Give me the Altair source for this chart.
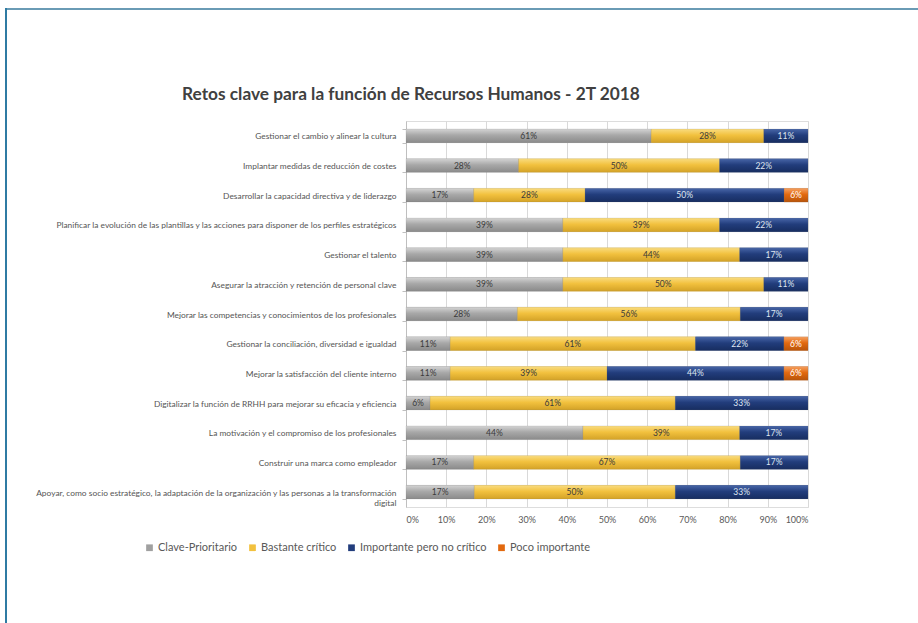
import altair as alt
import pandas as pd

title_text = "Retos clave para la función de Recursos Humanos - 2T 2018"
tasks = [
    "Gestionar el cambio y alinear la cultura",
    "Implantar medidas de reducción de costes",
    "Desarrollar la capacidad directiva y de liderazgo",
    "Planificar la evolución de las plantillas y las acciones para disponer de los perfiles estratégicos",
    "Gestionar el talento",
    "Asegurar la atracción y retención de personal clave",
    "Mejorar las competencias y conocimientos de los profesionales",
    "Gestionar la conciliación, diversidad e igualdad",
    "Mejorar la satisfacción del cliente interno",
    "Digitalizar la función de RRHH para mejorar su eficacia y eficiencia",
    "La motivación y el compromiso de los profesionales",
    "Construir una marca como empleador",
    "Apoyar, como socio estratégico, la adaptación de la organización y las personas a la transformación|digital",
]
series = ["Clave-Prioritario", "Bastante crítico", "Importante pero no crítico", "Poco importante"]
clave = [61, 28, 17, 39, 39, 39, 28, 11, 11, 6, 44, 17, 17]
bastante = [28, 50, 28, 39, 44, 50, 56, 61, 39, 61, 39, 67, 50]
importante = [11, 22, 50, 22, 17, 11, 17, 22, 44, 33, 17, 17, 33]
poco = [0, 0, 6, 0, 0, 0, 0, 6, 6, 0, 0, 0, 0]
colors = ["#a0a0a0", "#f2c13e", "#223d7c", "#e2690f"]
grad_stops = [
    ["#d4d4d4", "#a8a8a8", "#8a8a8a"],
    ["#f9dc80", "#f2c13e", "#d3a227"],
    ["#4866a8", "#223d7c", "#172d60"],
    ["#f6a060", "#e2690f", "#b8540a"],
]
text_colors = ["#3a3a3a", "#3a3a3a", "#dfe6f0", "#ffffff"]

rows = []
for i, t in enumerate(tasks):
    for j, vals in enumerate([clave, bastante, importante, poco]):
        if vals[i] > 0:
            rows.append({"task": t, "serie": series[j], "order": j, "value": vals[i],
                         "label": f"{vals[i]}%", "tcolor": text_colors[j]})
df = pd.DataFrame(rows)

base = alt.Chart(df).transform_stack(
    stack="value", groupby=["task"], as_=["v0", "v1"], offset="normalize",
    sort=[alt.SortField("order", order="ascending")]
).transform_calculate(mid="(datum.v0 + datum.v1) / 2")

yenc = alt.Y("task:N", sort=tasks, title=None,
             scale=alt.Scale(paddingInner=0.54, paddingOuter=0.27),
             axis=alt.Axis(labelExpr="split(datum.label, '|')", labelFont="Lato",
                           labelFontSize=8.4, labelColor="#555555", labelPadding=6,
                           labelLimit=400, tickBand="extent", tickSize=4,
                           tickColor="#bfbfbf", domainColor="#bfbfbf", labelLineHeight=10))

bars = base.mark_bar().encode(
    x=alt.X("v0:Q", title=None, scale=alt.Scale(domain=[0, 1], nice=False),
            axis=alt.Axis(format="%", values=[i / 10 for i in range(11)], grid=True,
                          gridColor="#d9d9d9", domain=False, ticks=False,
                          labelFont="Lato", labelFontSize=9, labelColor="#595959",
                          labelPadding=8)),
    x2="v1:Q",
    y=yenc,
    color=alt.Color("serie:N", sort=series,
                    scale=alt.Scale(domain=series, range=colors),
                    legend=alt.Legend(title=None, orient="none", direction="horizontal",
                                      legendX=-262, legendY=421, symbolType="square",
                                      symbolSize=45, symbolStrokeWidth=0.8,
                                      labelFont="Lato", labelFontSize=11,
                                      labelColor="#595959", columnPadding=9,
                                      labelOffset=3)),
)

grad_layers = []
for j, s in enumerate(series):
    g = alt.LinearGradient(
        gradient="linear", x1=0, y1=0, x2=0, y2=1,
        stops=[alt.GradientStop(offset=0, color=grad_stops[j][0]),
               alt.GradientStop(offset=0.45, color=grad_stops[j][1]),
               alt.GradientStop(offset=1, color=grad_stops[j][2])])
    grad_layers.append(
        base.transform_filter(alt.datum.serie == s)
        .mark_bar(color=g, stroke="#6f6f6f", strokeWidth=0.3, strokeOpacity=0.5)
        .encode(x="v0:Q", x2="v1:Q", y=alt.Y("task:N", sort=tasks))
    )

texts = base.mark_text(font="Lato", fontSize=8.5, baseline="middle").encode(
    x="mid:Q",
    y=alt.Y("task:N", sort=tasks),
    text="label:N",
    color=alt.Color("tcolor:N", scale=None),
)

frame_df = pd.DataFrame({"k": [0]})
top_line = alt.Chart(frame_df).mark_rule(color="#6a9bb5", strokeWidth=2).encode(
    x=alt.value(-400), x2=alt.value(520), y=alt.value(-112))
left_line = alt.Chart(frame_df).mark_rule(color="#2f7ba3", strokeWidth=2).encode(
    x=alt.value(-400), y=alt.value(-113), y2=alt.value(510))
title = alt.Chart(frame_df).mark_text(
    font="Lato", fontSize=17.3, fontWeight="bold", color="#404040",
    align="left", baseline="middle").encode(
    x=alt.value(-224), y=alt.value(-26), text=alt.value(title_text))

chart = alt.layer(bars, *grad_layers, texts, top_line, left_line, title).properties(
    width=402, height=386,
    autosize=alt.AutoSizeParams(type="none"),
    padding={"left": 406, "top": 121, "right": 110, "bottom": 116},
).configure_view(stroke=None).configure(background="white")

chart.save("out.html", embed_options={"renderer": "svg", "actions": False})
